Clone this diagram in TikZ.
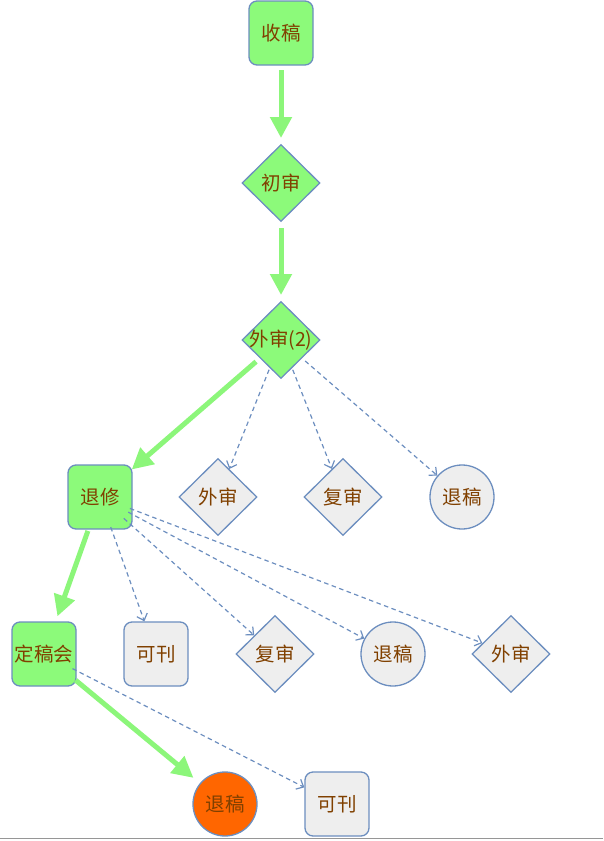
\documentclass[tikz,border=0pt]{standalone}
\usepackage{fontspec}
\setmainfont{Noto Sans CJK SC}
\usetikzlibrary{shapes.geometric,arrows.meta}
\definecolor{gfill}{RGB}{140,250,122}
\definecolor{garrow}{RGB}{140,246,122}
\definecolor{bord}{RGB}{108,142,191}
\definecolor{txt}{RGB}{128,64,0}
\definecolor{nfill}{RGB}{238,238,238}
\definecolor{orng}{RGB}{255,102,0}
\definecolor{frame}{RGB}{150,150,150}
\begin{document}
\begin{tikzpicture}[x=1pt,y=-1pt,
  base/.style={draw=bord, line width=1.3pt, text=txt, font=\fontsize{19.5}{22}\selectfont, inner sep=0pt},
  box/.style={base, rounded corners=8pt, minimum width=64pt, minimum height=64pt},
  dia/.style={base, diamond, minimum width=78pt, minimum height=77pt},
  circ/.style={base, ellipse, minimum width=64pt, minimum height=64pt},
  gn/.style={fill=gfill},
  gy/.style={fill=nfill},
  mainarrow/.style={draw=garrow, line width=5pt, -{Triangle[length=21pt,width=21pt]}},
  side/.style={draw=bord, line width=1.2pt, dash pattern=on 4.5pt off 3.5pt, -{Straight Barb[length=6pt,width=11pt]}, shorten <=32pt},
]
\useasboundingbox (0,0) rectangle (603,841);
\draw[frame, line width=1.5pt] (0,838.5) -- (603,838.5);

\node[box,gn] (shou) at (281,33) {收稿};
\node[dia,gn] (chu) at (281,183) {初审};
\node[dia,gn] (wai2) at (281,340) {\makebox[0pt]{外审(2)}};
\node[box,gn] (tui) at (100,497) {退修};
\node[dia,gy] (wa) at (218,497) {外审};
\node[dia,gy] (fa) at (343,497) {复审};
\node[circ,gy] (ta) at (462,497) {退稿};
\node[box,gn] (ding) at (44,654) {定稿会};
\node[box,gy] (kb) at (156,654) {可刊};
\node[dia,gy] (fb) at (275,654) {复审};
\node[circ,gy] (tb) at (393,654) {退稿};
\node[dia,gy] (wb) at (511,654) {外审};
\node[circ,fill=orng] (tc) at (225,804) {退稿};
\node[box,gy] (kc) at (337,804) {可刊};

\draw[mainarrow, shorten <=37pt, shorten >=45pt] (shou.center) -- (chu.center);
\draw[mainarrow, shorten <=45pt, shorten >=45pt] (chu.center) -- (wai2.center);
\draw[mainarrow, shorten <=33pt, shorten >=42pt] (wai2.center) -- (tui.center);
\draw[mainarrow, shorten <=36pt, shorten >=40pt] (tui.center) -- (ding.center);
\draw[mainarrow, shorten <=41pt, shorten >=41pt] (ding.center) -- (tc.center);

\draw[side] (wai2.center) -- (wa);
\draw[side] (wai2.center) -- (fa);
\draw[side] (wai2.center) -- (ta);
\draw[side] (tui.center) -- (kb);
\draw[side] (tui.center) -- (fb);
\draw[side] (tui.center) -- (tb);
\draw[side] (tui.center) -- (wb);
\draw[side] (ding.center) -- (kc);
\end{tikzpicture}
\end{document}
